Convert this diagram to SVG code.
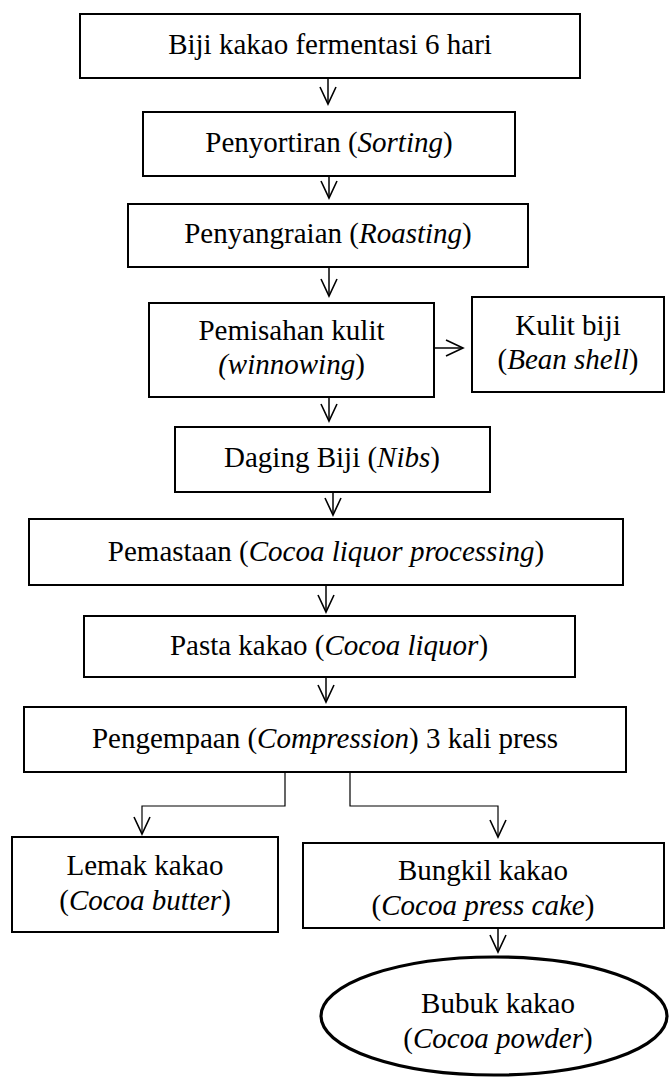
<svg xmlns="http://www.w3.org/2000/svg" width="669" height="1079" viewBox="0 0 669 1079" font-family="'Liberation Serif', 'Times New Roman', Times, 'DejaVu Serif', serif">
<style>
.box{fill:#fff;stroke:#000;stroke-width:2}
.ell{fill:#fff;stroke:#000;stroke-width:3.2}
.t{font-family:'Liberation Serif','Times New Roman',Times,'DejaVu Serif',serif;font-size:29px;fill:#000;text-anchor:middle}
.i{font-style:italic}
.c{fill:none;stroke:#000;stroke-width:1.5}
.b{fill:none;stroke:#000;stroke-width:1.2}
</style>
<defs>
<marker id="v" viewBox="-19 -10 21 20" refX="0" refY="0" markerWidth="21" markerHeight="20" markerUnits="userSpaceOnUse" orient="auto">
<path d="M-17,-8 L0,0 L-17,8" fill="none" stroke="#000" stroke-width="1.6"/>
</marker>
</defs>
<rect width="669" height="1079" fill="#fff"/>
<g id="connectors">
<line class="c" x1="328" y1="78" x2="328" y2="104" marker-end="url(#v)"/>
<line class="c" x1="329" y1="176" x2="329" y2="198" marker-end="url(#v)"/>
<line class="c" x1="329" y1="267" x2="329" y2="296" marker-end="url(#v)"/>
<line class="c" x1="434" y1="348" x2="463" y2="348" marker-end="url(#v)"/>
<line class="c" x1="329" y1="397" x2="329" y2="421" marker-end="url(#v)"/>
<line class="c" x1="333" y1="492" x2="333" y2="515" marker-end="url(#v)"/>
<line class="c" x1="326" y1="585" x2="326" y2="612" marker-end="url(#v)"/>
<line class="c" x1="326" y1="677" x2="326" y2="702" marker-end="url(#v)"/>
<path class="b" d="M285,772 V806 H142 V834" marker-end="url(#v)"/>
<path class="b" d="M350,772 V806 H498 V837" marker-end="url(#v)"/>
<line class="c" x1="498" y1="928" x2="498" y2="952" marker-end="url(#v)"/>
</g>
<g id="n1"><rect class="box" x="80" y="14" width="500" height="64"/><text class="t" x="330" y="54">Biji kakao fermentasi 6 hari</text></g>
<g id="n2"><rect class="box" x="143" y="112" width="372" height="64"/><text class="t" x="329" y="152">Penyortiran (<tspan class="i">Sorting</tspan>)</text></g>
<g id="n3"><rect class="box" x="128" y="204" width="400" height="63"/><text class="t" x="328" y="243">Penyangraian (<tspan class="i">Roasting</tspan>)</text></g>
<g id="n4"><rect class="box" x="149" y="303" width="285" height="94"/><text class="t" x="291.5" y="340">Pemisahan kulit</text><text class="t" x="291.5" y="374"><tspan class="i">(winnowing</tspan>)</text></g>
<g id="n5"><rect class="box" x="472" y="297" width="192" height="95"/><text class="t" x="568" y="335">Kulit biji</text><text class="t" x="568" y="369">(<tspan class="i">Bean shell</tspan>)</text></g>
<g id="n6"><rect class="box" x="175" y="427" width="315" height="65"/><text class="t" x="332" y="467">Daging Biji (<tspan class="i">Nibs</tspan>)</text></g>
<g id="n7"><rect class="box" x="29" y="519" width="594" height="66"/><text class="t" x="326" y="561">Pemastaan (<tspan class="i">Cocoa liquor processing</tspan>)</text></g>
<g id="n8"><rect class="box" x="84" y="616" width="491" height="61"/><text class="t" x="329" y="655">Pasta kakao (<tspan class="i">Cocoa liquor</tspan>)</text></g>
<g id="n9"><rect class="box" x="24" y="707" width="602" height="65"/><text class="t" x="325" y="748">Pengempaan (<tspan class="i">Compression</tspan>) 3 kali press</text></g>
<g id="n10"><rect class="box" x="12" y="837" width="266" height="95"/><text class="t" x="145" y="875">Lemak kakao</text><text class="t" x="145" y="910">(<tspan class="i">Cocoa butter</tspan>)</text></g>
<g id="n11"><rect class="box" x="303" y="843" width="361" height="85"/><text class="t" x="483" y="880">Bungkil kakao</text><text class="t" x="483" y="915">(<tspan class="i">Cocoa press cake</tspan>)</text></g>
<g id="n12"><ellipse class="ell" cx="494" cy="1016" rx="173" ry="59"/><text class="t" x="498" y="1013">Bubuk kakao</text><text class="t" x="498" y="1048">(<tspan class="i">Cocoa powder</tspan>)</text></g>
</svg>
